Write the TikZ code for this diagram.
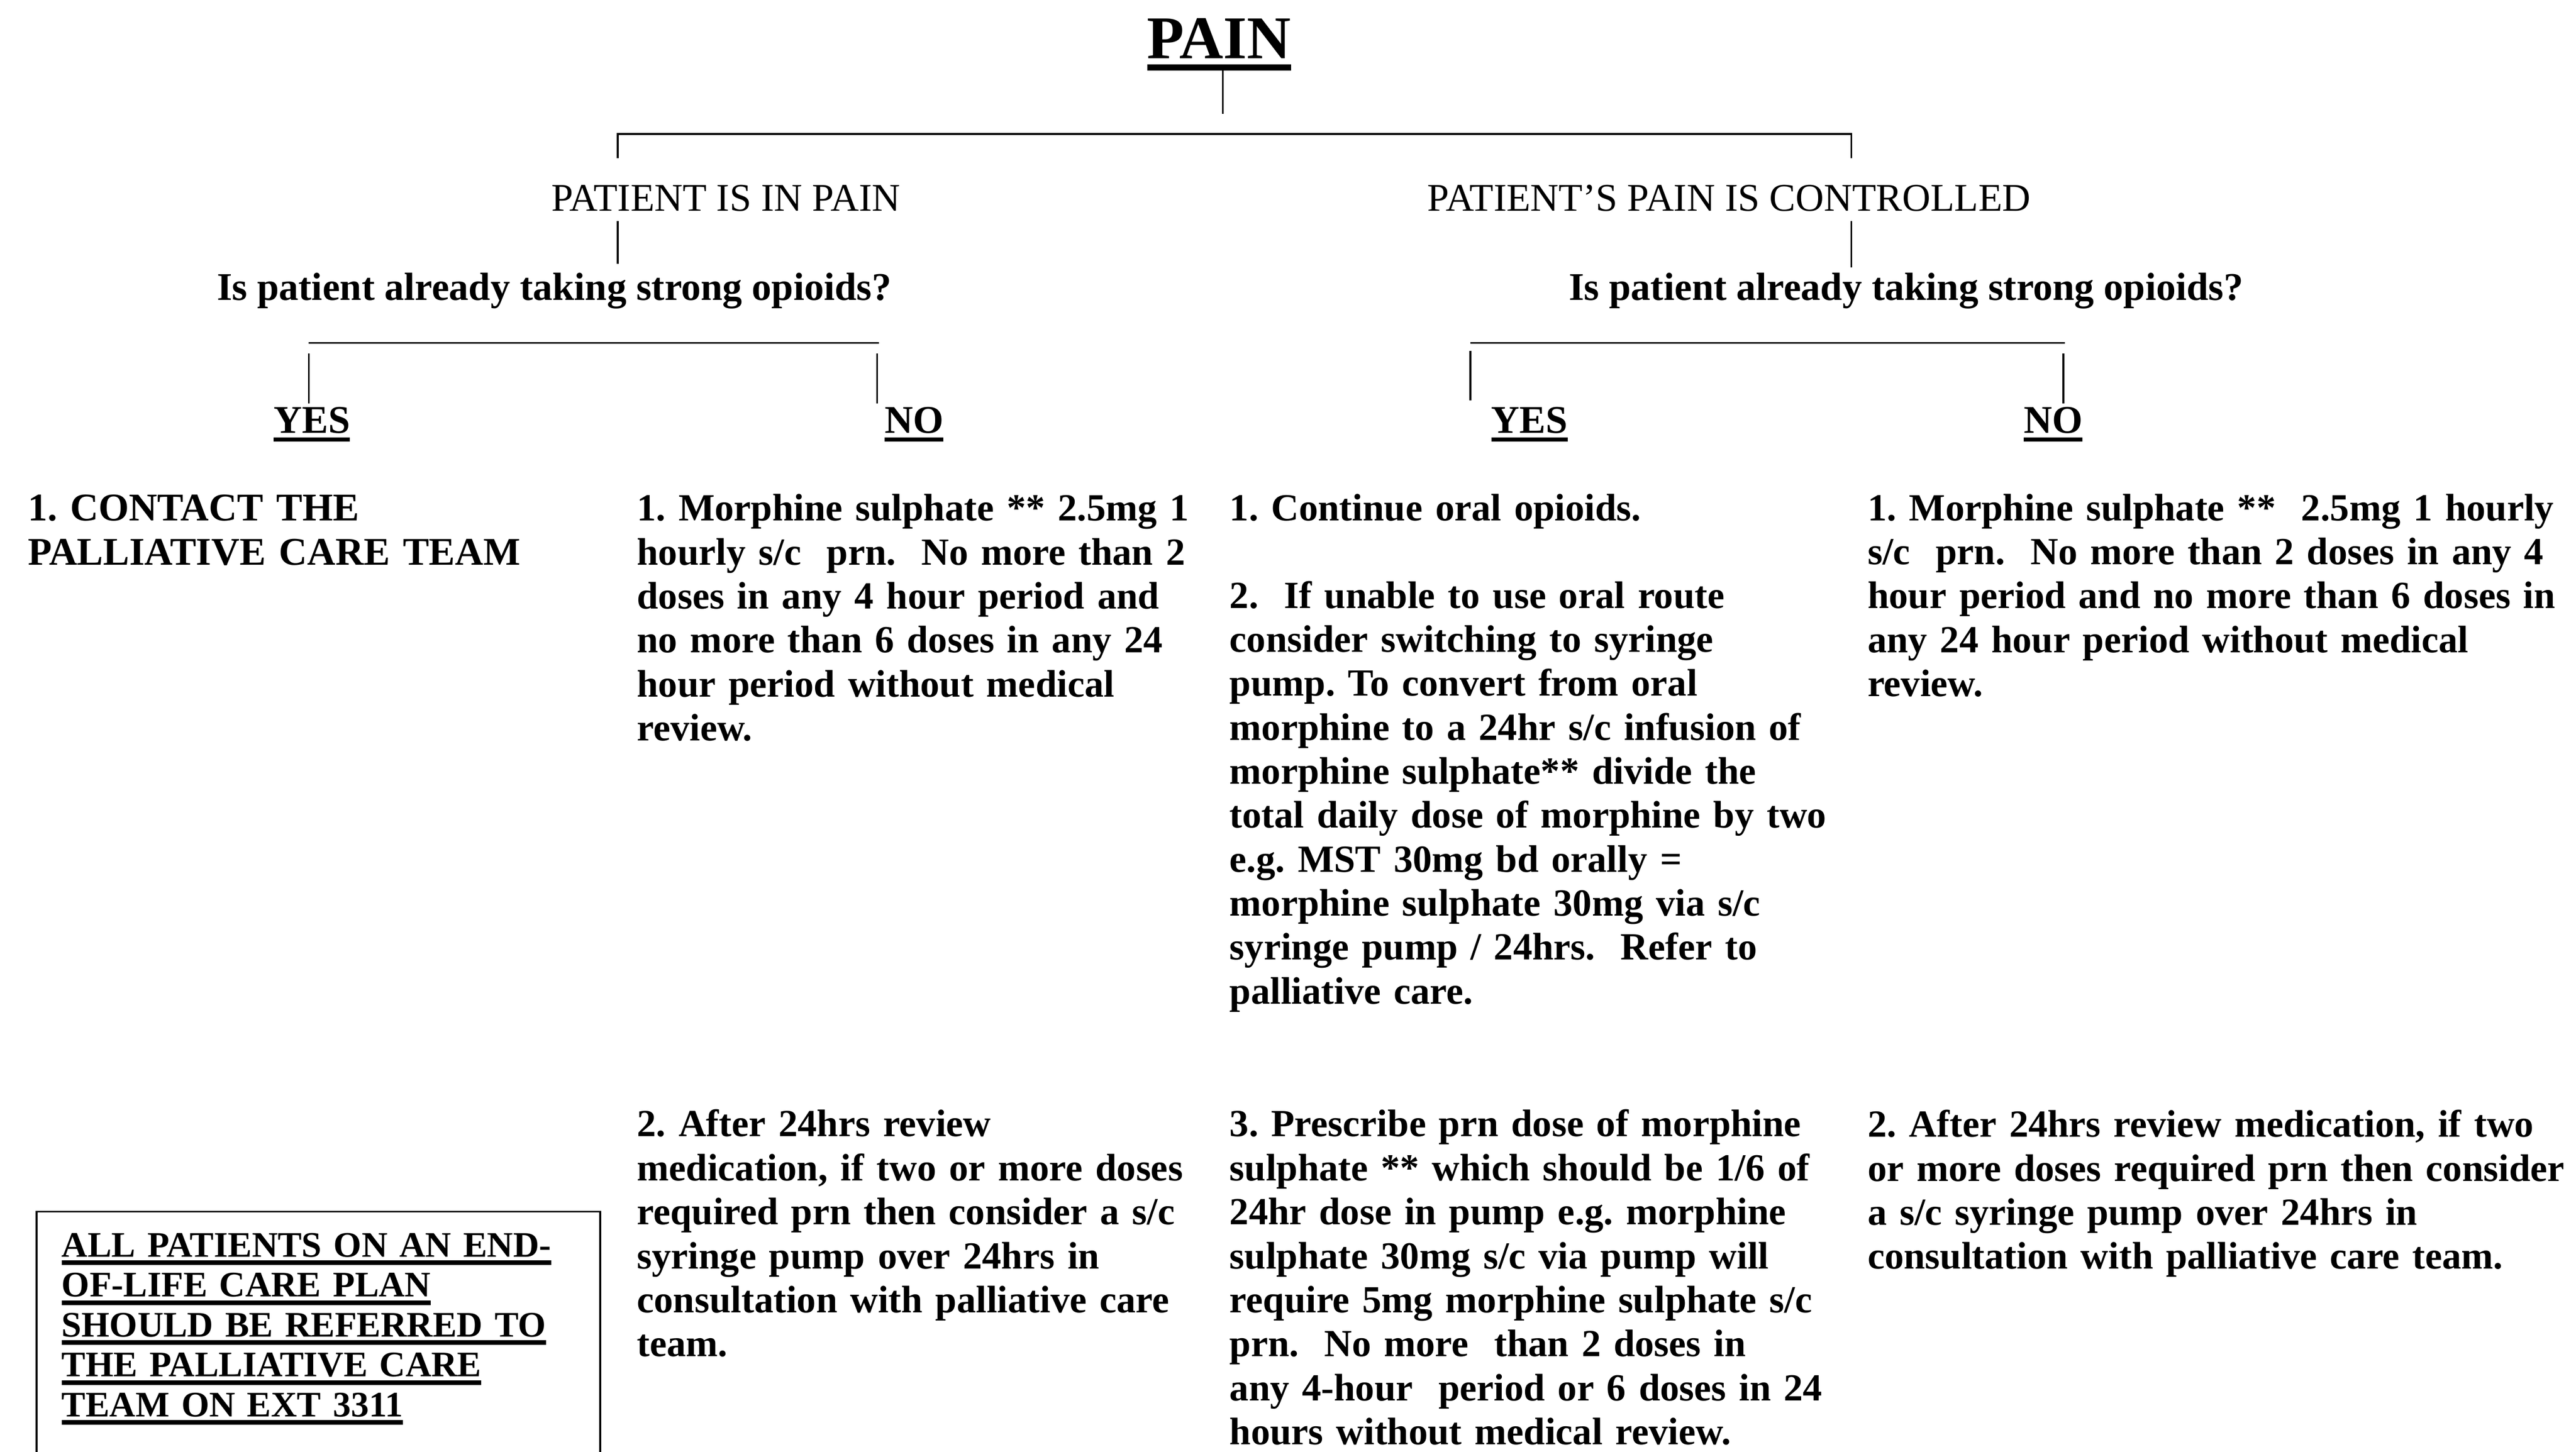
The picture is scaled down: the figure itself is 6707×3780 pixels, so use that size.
\documentclass[tikz,border=0pt]{standalone}
\usepackage{fontspec}
\setmainfont{Liberation Serif}
\frenchspacing
\newcommand\thickul[3]{\leavevmode\setbox0=\hbox{#3}\rlap{\rule[\dimexpr-#1-#2\relax]{\wd0}{#2}}\box0}
\tikzset{
  conn/.style={line width=0.55pt, line cap=butt},
  bodytext/.style={anchor=base west, inner sep=0pt, align=left, text width=240pt,
    font=\fontsize{11.75}{13.47}\selectfont\bfseries\frenchspacing},
  capstext/.style={bodytext, font=\fontsize{12}{13.47}\selectfont\bfseries\frenchspacing},
  branchlabel/.style={anchor=base, inner sep=0pt, font=\fontsize{12}{13.47}\selectfont},
  question/.style={anchor=base, inner sep=0pt, font=\fontsize{12}{13.47}\selectfont\bfseries},
  answer/.style={anchor=base, inner sep=0pt, font=\fontsize{12}{13.47}\selectfont\bfseries},
  boxtext/.style={anchor=base west, inner sep=0pt, align=left, text width=180pt,
    font=\fontsize{11}{12.24}\selectfont\bfseries},
}
\begin{document}
\begin{tikzpicture}[x=0.11765pt, y=-0.11765pt]
\useasboundingbox (0,0) rectangle (6707,3780);

% title
\node[anchor=base, inner sep=0pt, font=\fontsize{18.6}{20}\selectfont\bfseries] (pain) at (3174,152)
  {\thickul{1.8pt}{1.9pt}{PAIN}};

% connector coordinates
\coordinate (p0) at (3184,183);
\coordinate (p1) at (3184,296);
\coordinate (hL) at (1608,349);
\coordinate (hR) at (4820,349);
\coordinate (hLd) at (1608,412);
\coordinate (hRd) at (4820,412);
\draw[conn] (p0) -- (p1);
\draw[conn] (hLd) -- (hL) -- (hR) -- (hRd);

% branch labels
\node[branchlabel] (inpain) at (1890,549) {PATIENT IS IN PAIN};
\node[branchlabel] (controlled) at (4502,549) {PATIENT’S PAIN IS CONTROLLED};

\coordinate (l1a) at (1608,576);
\coordinate (l1b) at (1608,687);
\coordinate (r1a) at (4820,576);
\coordinate (r1b) at (4820,696);
\draw[conn] (l1a) -- (l1b);
\draw[conn] (r1a) -- (r1b);

% questions
\node[question] (qL) at (1443,782) {Is patient already taking strong opioids?};
\node[question] (qR) at (4963,782) {Is patient already taking strong opioids?};

\coordinate (qLh1) at (804,893);
\coordinate (qLh2) at (2288,893);
\coordinate (qRh1) at (3828,893);
\coordinate (qRh2) at (5376,893);
\draw[conn] (qLh1) -- (qLh2);
\draw[conn] (qRh1) -- (qRh2);

\coordinate (yLa) at (804,920);
\coordinate (yLb) at (804,1050);
\coordinate (nLa) at (2284,920);
\coordinate (nLb) at (2284,1050);
\coordinate (yRa) at (3828,913);
\coordinate (yRb) at (3828,1042);
\coordinate (nRa) at (5372,920);
\coordinate (nRb) at (5372,1050);
\draw[conn] (yLa) -- (yLb);
\draw[conn] (nLa) -- (nLb);
\draw[conn] (yRa) -- (yRb);
\draw[conn] (nRa) -- (nRb);

% answers
\node[answer] (yesL) at (812,1128) {\thickul{1.2pt}{1.3pt}{YES}};
\node[answer] (noL) at (2380,1128) {\thickul{1.2pt}{1.3pt}{NO}};
\node[answer] (yesR) at (3982,1128) {\thickul{1.2pt}{1.3pt}{YES}};
\node[answer] (noR) at (5346,1128) {\thickul{1.2pt}{1.3pt}{NO}};

% column 1
\node[capstext] (c1) at (71,1356) {1. CONTACT THE\\PALLIATIVE CARE TEAM};

% column 2
\node[bodytext] (c2a) at (1657,1356) {1. Morphine sulphate ** 2.5mg 1\\
hourly s/c\ \ prn.\ \ No more than 2\\
doses in any 4 hour period and\\
no more than 6 doses in any 24\\
hour period without medical\\
review.};
\node[bodytext] (c2b) at (1657,2959) {2. After 24hrs review\\
medication, if two or more doses\\
required prn then consider a s/c\\
syringe pump over 24hrs in\\
consultation with palliative care\\
team.};

% column 3
\node[bodytext] (c3a) at (3200,1355) {1. Continue oral opioids.};
\node[bodytext] (c3b) at (3200,1583) {2.\ \ If unable to use oral route\\
consider switching to syringe\\
pump. To convert from oral\\
morphine to a 24hr s/c infusion of\\
morphine sulphate** divide the\\
total daily dose of morphine by two\\
e.g. MST 30mg bd orally =\\
morphine sulphate 30mg via s/c\\
syringe pump / 24hrs.\ \ Refer to\\
palliative care.};
\node[bodytext] (c3c) at (3200,2959) {3. Prescribe prn dose of morphine\\
sulphate ** which should be 1/6 of\\
24hr dose in pump e.g. morphine\\
sulphate 30mg s/c via pump will\\
require 5mg morphine sulphate s/c\\
prn.\ \ No more\ \ than 2 doses in\\
any 4-hour\ \ period or 6 doses in 24\\
hours without medical review.};

% column 4
\node[bodytext] (c4a) at (4861,1355) {1. Morphine sulphate **\ \ 2.5mg 1 hourly\\
s/c\ \ prn.\ \ No more than 2 doses in any 4\\
hour period and no more than 6 doses in\\
any 24 hour period without medical\\
review.};
\node[bodytext] (c4b) at (4861,2960) {2. After 24hrs review medication, if two\\
or more doses required prn then consider\\
a s/c syringe pump over 24hrs in\\
consultation with palliative care team.};

% referral box
\coordinate (bx1) at (95,3800);
\coordinate (bx2) at (95,3154);
\coordinate (bx3) at (1563,3154);
\coordinate (bx4) at (1563,3800);
\draw[conn] (bx1) -- (bx2) -- (bx3) -- (bx4);
\node[boxtext] (boxtxt) at (159,3272) {\thickul{1.1pt}{1.4pt}{ALL PATIENTS ON AN END-}\\
\thickul{1.1pt}{1.4pt}{OF-LIFE CARE PLAN}\\
\thickul{1.1pt}{1.4pt}{SHOULD BE REFERRED TO}\\
\thickul{1.1pt}{1.4pt}{THE PALLIATIVE CARE}\\
\thickul{1.1pt}{1.4pt}{TEAM ON EXT 3311}};
\end{tikzpicture}
\end{document}
